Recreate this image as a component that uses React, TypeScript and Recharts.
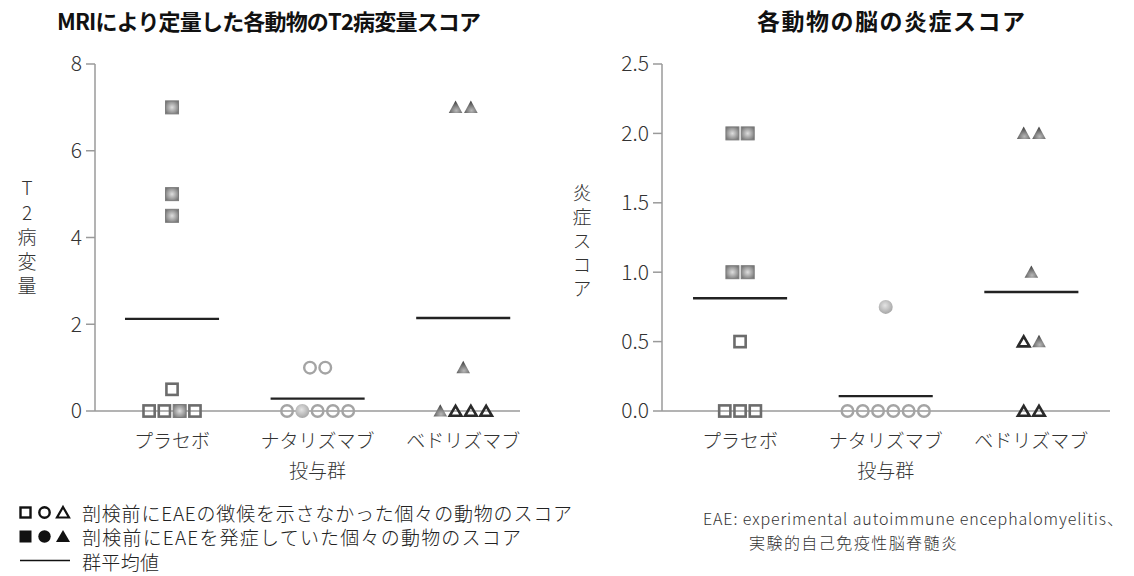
import React from 'react';
import { ScatterChart, Scatter, XAxis, YAxis, ReferenceLine } from 'recharts';

// ---------- data ----------
const groupNames = ['プラセボ', 'ナタリズマブ', 'ベドリズマブ'];
const groupCaption = '投与群';
const groupShapes = ['square', 'circle', 'triangle'];

// [score, EAE onset before necropsy (1) / no signs (0)], animals listed left to right
const t2Placebo = [[7, 1], [5, 1], [4.5, 1], [0.5, 0], [0, 0], [0, 0], [0, 1], [0, 0]];
const t2Natalizumab = [[1, 0], [1, 0], [0, 0], [0, 1], [0, 0], [0, 0], [0, 0]];
const t2Vedolizumab = [[7, 1], [7, 1], [1, 1], [0, 1], [0, 0], [0, 0], [0, 0]];

const inflPlacebo = [[2, 1], [2, 1], [1, 1], [1, 1], [0.5, 0], [0, 0], [0, 0], [0, 0]];
const inflNatalizumab = [[0.75, 1], [0, 0], [0, 0], [0, 0], [0, 0], [0, 0], [0, 0]];
const inflVedolizumab = [[2, 1], [2, 1], [1, 1], [0.5, 0], [0.5, 1], [0, 0], [0, 0]];

const t2Ticks = [0, 2, 4, 6, 8];
const inflTicks = [0, 0.5, 1, 1.5, 2, 2.5];

const titleLeft = 'MRIにより定量した各動物のT2病変量スコア';
const titleRight = '各動物の脳の炎症スコア';
const yLabelLeft = 'T2病変量';
const yLabelRight = '炎症スコア';
const legendRows = [
  '剖検前にEAEの徴候を示さなかった個々の動物のスコア',
  '剖検前にEAEを発症していた個々の動物のスコア',
  '群平均値',
];
const footnote = ['EAE: experimental autoimmune encephalomyelitis、', '実験的自己免疫性脳脊髄炎'];

// ---------- helpers ----------
const FONT = "'Noto Sans CJK JP', 'Noto Sans', sans-serif";
const DODGE = 0.105;
const HALF_MEAN = 0.323;

type Pt = { x: number; y: number; shape: string; onset: number };

function buildPoints(groups: number[][][]): Pt[] {
  const pts: Pt[] = [];
  groups.forEach((list, gi) => {
    const counts: Record<string, number> = {};
    const seen: Record<string, number> = {};
    list.forEach(([v]) => { counts[v] = (counts[v] || 0) + 1; });
    list.forEach(([v, onset]) => {
      const idx = seen[v] || 0;
      seen[v] = idx + 1;
      const off = (idx - (counts[v] - 1) / 2) * DODGE;
      pts.push({ x: gi + 1 + off, y: v, shape: groupShapes[gi], onset });
    });
  });
  return pts;
}

const groupMeans = (groups: number[][][]) =>
  groups.map((list) => list.reduce((s, [v]) => s + v, 0) / list.length);

const t2Groups = [t2Placebo, t2Natalizumab, t2Vedolizumab];
const inflGroups = [inflPlacebo, inflNatalizumab, inflVedolizumab];
const t2Points = buildPoints(t2Groups);
const inflPoints = buildPoints(inflGroups);
const t2Means = groupMeans(t2Groups);
const inflMeans = groupMeans(inflGroups);

const Marker = (props: any) => {
  const { cx, cy, payload } = props;
  if (cx == null || cy == null) return null;
  const { shape, onset } = payload;
  if (shape === 'square') {
    return onset ? (
      <rect x={cx - 6.5} y={cy - 6.5} width={13} height={13} fill="url(#gSq)" stroke="#7c7c7c" strokeWidth={1} />
    ) : (
      <rect x={cx - 5.6} y={cy - 5.6} width={11.2} height={11.2} fill="none" stroke="#6c6c6c" strokeWidth={2.6} />
    );
  }
  if (shape === 'circle') {
    return onset ? (
      <circle cx={cx} cy={cy} r={7} fill="url(#gCi)" />
    ) : (
      <circle cx={cx} cy={cy} r={5.8} fill="none" stroke="#a4a4a4" strokeWidth={2.4} />
    );
  }
  return onset ? (
    <polygon points={`${cx},${cy - 6.8} ${cx + 6.8},${cy + 5.6} ${cx - 6.8},${cy + 5.6}`} fill="url(#gTr)" />
  ) : (
    <polygon
      points={`${cx},${cy - 5.2} ${cx + 5.8},${cy + 4.8} ${cx - 5.8},${cy + 4.8}`}
      fill="none"
      stroke="#2a2a2a"
      strokeWidth={2.6}
      strokeLinejoin="miter"
    />
  );
};

const CatTick = (props: any) => {
  const { x, y, payload } = props;
  const i = Math.round(payload.value) - 1;
  return (
    <text x={x} y={y + 37} textAnchor="middle" fontSize={19} fill="#333" fontFamily={FONT} fontWeight={300}>
      <tspan x={x}>{groupNames[i]}</tspan>
      {i === 1 && (
        <tspan x={x} dy={30}>
          {groupCaption}
        </tspan>
      )}
    </text>
  );
};

const yTickStyle = { fontSize: 21, fill: '#333', fontFamily: FONT, fontWeight: 300 } as any;

function Panel(props: {
  points: Pt[];
  means: number[];
  yDomain: [number, number];
  yTicks: number[];
  xDomain: [number, number];
  yWidth: number;
  width: number;
  rightMargin: number;
  fmt?: (v: number) => string;
}) {
  const { points, means, yDomain, yTicks, xDomain, yWidth, width, rightMargin, fmt } = props;
  return (
    <ScatterChart width={width} height={500} margin={{ top: 64, right: rightMargin, bottom: 29, left: 0 }}>
      <XAxis
        type="number"
        dataKey="x"
        domain={xDomain}
        ticks={[1, 2, 3]}
        allowDataOverflow
        height={60}
        tickLine={false}
        tickSize={0}
        tickMargin={0}
        tick={<CatTick />}
        axisLine={{ stroke: '#9a9a9a', strokeWidth: 1.5 }}
        interval={0}
      />
      <YAxis
        type="number"
        dataKey="y"
        domain={yDomain}
        ticks={yTicks}
        width={yWidth}
        tickSize={9}
        tickMargin={4}
        tick={yTickStyle}
        tickFormatter={fmt}
        axisLine={{ stroke: '#9a9a9a', strokeWidth: 1.5 }}
        tickLine={{ stroke: '#9a9a9a', strokeWidth: 1.5 }}
        interval={0}
      />
      {means.map((m, i) => (
        <ReferenceLine
          key={i}
          segment={[{ x: i + 1 - HALF_MEAN, y: m }, { x: i + 1 + HALF_MEAN, y: m }]}
          stroke="#222"
          strokeWidth={2.4}
        />
      ))}
      <Scatter data={points} shape={<Marker />} isAnimationActive={false} />
    </ScatterChart>
  );
}

function VerticalLabel({ text, x, y0, spacing }: { text: string; x: number; y0: number; spacing: number }) {
  return (
    <text
      x={x}
      y={y0}
      fontSize={19}
      fill="#333"
      fontFamily={FONT}
      fontWeight={300}
      style={{ writingMode: 'vertical-rl', textOrientation: 'upright', letterSpacing: spacing } as any}
    >
      {text}
    </text>
  );
}

export default function App() {
  return (
    <div style={{ position: 'absolute', left: 0, top: 0, width: 1134, height: 576, background: '#fff', fontFamily: FONT }}>
      <svg width={0} height={0} style={{ position: 'absolute' }}>
        <defs>
          <radialGradient id="gSq" cx="50%" cy="50%" r="60%">
            <stop offset="0%" stopColor="#dedede" />
            <stop offset="100%" stopColor="#767676" />
          </radialGradient>
          <radialGradient id="gCi" cx="45%" cy="40%" r="60%">
            <stop offset="0%" stopColor="#e4e4e4" />
            <stop offset="100%" stopColor="#a6a6a6" />
          </radialGradient>
          <radialGradient id="gTr" cx="55%" cy="80%" r="75%">
            <stop offset="0%" stopColor="#b8b8b8" />
            <stop offset="100%" stopColor="#3e3e3e" />
          </radialGradient>
        </defs>
      </svg>

      <div style={{ position: 'absolute', left: 0, top: 0 }}>
        <Panel
          points={t2Points}
          means={t2Means}
          yDomain={[0, 8]}
          yTicks={t2Ticks}
          xDomain={[0.471, 3.39]}
          yWidth={95}
          width={540}
          rightMargin={20}
        />
      </div>
      <div style={{ position: 'absolute', left: 560, top: 0 }}>
        <Panel
          points={inflPoints}
          means={inflMeans}
          yDomain={[0, 2.5]}
          yTicks={inflTicks}
          xDomain={[0.464, 3.54]}
          yWidth={102}
          width={574}
          rightMargin={24}
          fmt={(v: number) => v.toFixed(1)}
        />
      </div>

      <svg width={1134} height={576} style={{ position: 'absolute', left: 0, top: 0, pointerEvents: 'none' }}>
        <text x={57} y={30} fontSize={22} fontWeight={700} fill="#111" fontFamily={FONT} textLength={424} lengthAdjust="spacing">
          {titleLeft}
        </text>
        <text x={757} y={30} fontSize={23} fontWeight={700} fill="#111" fontFamily={FONT} textLength={268} lengthAdjust="spacing">
          {titleRight}
        </text>

        <VerticalLabel text={yLabelLeft} x={27} y0={178.5} spacing={5.5} />
        <VerticalLabel text={yLabelRight} x={582} y0={183.5} spacing={5} />

        {/* legend */}
        <rect x={20.5} y={507.5} width={10} height={10} fill="none" stroke="#111" strokeWidth={2.4} />
        <circle cx={44.5} cy={512.5} r={5.2} fill="none" stroke="#111" strokeWidth={2.4} />
        <polygon points="63,507 69,517.5 57,517.5" fill="none" stroke="#111" strokeWidth={2.2} />
        <rect x={19.5} y={530.5} width={12} height={12} fill="#111" />
        <circle cx={44.5} cy={536.5} r={6.2} fill="#111" />
        <polygon points="63,530 70,542 56,542" fill="#111" />
        <line x1={20} x2={70} y1={560.5} y2={560.5} stroke="#111" strokeWidth={1.5} />
        {legendRows.map((t, i) => (
          <text
            key={i}
            x={82}
            y={512 + i * 24.5}
            dominantBaseline="central"
            fontSize={19}
            fill="#222"
            fontFamily={FONT}
            fontWeight={300}
            textLength={[490, 439, 77][i]}
            lengthAdjust="spacing"
          >
            {t}
          </text>
        ))}

        <text x={703} y={518} dominantBaseline="central" fontSize={16} fill="#333" fontFamily={FONT} fontWeight={300} textLength={420} lengthAdjust="spacing">
          {footnote[0]}
        </text>
        <text x={749} y={542} dominantBaseline="central" fontSize={16} fill="#333" fontFamily={FONT} fontWeight={300} textLength={208} lengthAdjust="spacing">
          {footnote[1]}
        </text>
      </svg>
    </div>
  );
}
